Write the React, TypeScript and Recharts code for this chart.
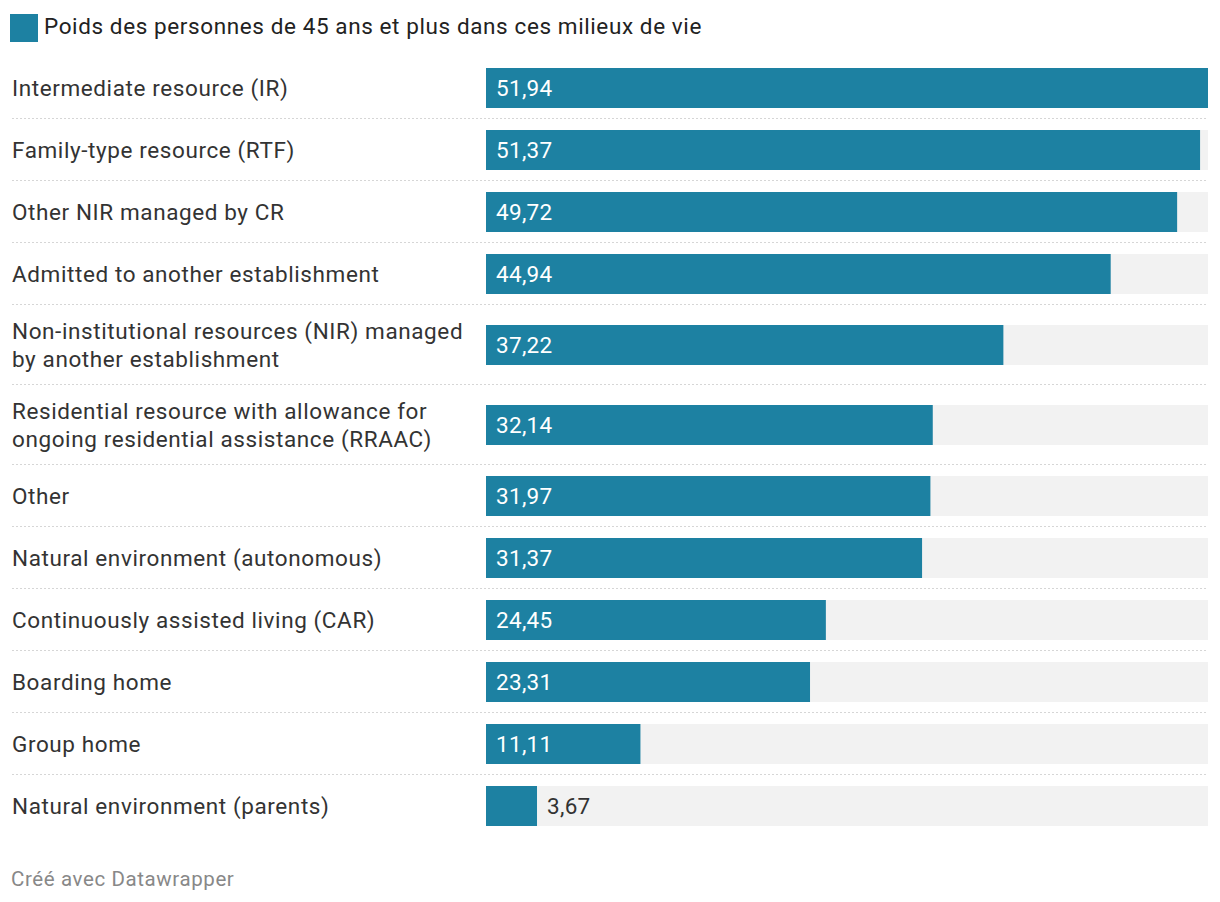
import { BarChart, Bar, XAxis, YAxis, LabelList } from "recharts";

const categories: string[] = [
  "Intermediate resource (IR)",
  "Family-type resource (RTF)",
  "Other NIR managed by CR",
  "Admitted to another establishment",
  "Non-institutional resources (NIR) managed\nby another establishment",
  "Residential resource with allowance for\nongoing residential assistance (RRAAC)",
  "Other",
  "Natural environment (autonomous)",
  "Continuously assisted living (CAR)",
  "Boarding home",
  "Group home",
  "Natural environment (parents)",
];

const values: number[] = [51.94, 51.37, 49.72, 44.94, 37.22, 32.14, 31.97, 31.37, 24.45, 23.31, 11.11, 3.67];

const legendLabel = "Poids des personnes de 45 ans et plus dans ces milieux de vie";
const creditLabel = "Créé avec Datawrapper";

const BAR_COLOR = "#1d81a2";
const BG_COLOR = "#f2f2f2";
const TEXT_COLOR = "#333333";
const FONT = "Roboto, sans-serif";
const FS = 22.5;
const LS = 0.6;
const maxValue = Math.max(...values);

const fmt = (v: number) => v.toFixed(2).replace(".", ",");

function LabelTick(props: any) {
  const { y, payload } = props;
  const lines = String(payload.value).split("\n");
  const lh = 28;
  const start = y - ((lines.length - 1) * lh) / 2;
  return (
    <text x={12} y={start} fontSize={FS} letterSpacing={LS} fill={TEXT_COLOR} fontFamily={FONT} textAnchor="start">
      {lines.map((l, i) => (
        <tspan key={i} x={12} y={start + i * lh} dy="0.36em">
          {l}
        </tspan>
      ))}
    </text>
  );
}

function ValueLabel(props: any) {
  const { x, y, width, height, value } = props;
  const inside = width > 75;
  return (
    <text
      x={inside ? x + 10 : x + width + 10}
      y={y + height / 2}
      dy="0.36em"
      fill={inside ? "#ffffff" : TEXT_COLOR}
      fontSize={FS}
      letterSpacing={0.3}
      fontFamily={FONT}
    >
      {fmt(Number(value))}
    </text>
  );
}

function Row({ label, value, last }: { label: string; value: number; last: boolean }) {
  const lines = label.split("\n").length;
  const h = 62 + (lines - 1) * 18;
  const pad = (h - 40) / 2;
  return (
    <div style={{ position: "relative", height: h }}>
      <BarChart
        width={1220}
        height={h}
        layout="vertical"
        data={[{ name: label, value }]}
        margin={{ top: pad, bottom: pad, left: 0, right: 12 }}
        barCategoryGap={0}
      >
        <XAxis type="number" hide domain={[0, maxValue]} />
        <YAxis type="category" dataKey="name" width={486} axisLine={false} tickLine={false} tick={<LabelTick />} />
        <Bar dataKey="value" fill={BAR_COLOR} background={{ fill: BG_COLOR }} isAnimationActive={false}>
          <LabelList dataKey="value" content={<ValueLabel />} />
        </Bar>
      </BarChart>
      {!last && (
        <div
          style={{
            position: "absolute",
            left: 12,
            right: 12,
            bottom: 0,
            height: 1,
            backgroundImage: "repeating-linear-gradient(to right, #d6d6d6 0 2px, transparent 2px 4px)",
          }}
        />
      )}
    </div>
  );
}

export default function App() {
  return (
    <div
      style={{
        position: "absolute",
        left: 0,
        top: 0,
        width: 1220,
        height: 902,
        background: "#ffffff",
        fontFamily: FONT,
        overflow: "hidden",
      }}
    >
      <div style={{ position: "absolute", left: 10, top: 14, width: 28, height: 28, background: BAR_COLOR }} />
      <div
        style={{
          position: "absolute",
          left: 44,
          top: 12,
          fontSize: FS,
          letterSpacing: LS,
          lineHeight: "28px",
          color: "#222",
          whiteSpace: "nowrap",
        }}
      >
        {legendLabel}
      </div>
      <div style={{ position: "absolute", left: 0, top: 57, width: 1220 }}>
        {categories.map((c, i) => (
          <Row key={c} label={c} value={values[i]} last={i === categories.length - 1} />
        ))}
      </div>
      <div
        style={{
          position: "absolute",
          left: 11,
          top: 865,
          fontSize: 20.5,
          letterSpacing: LS,
          lineHeight: "28px",
          color: "#888",
          whiteSpace: "nowrap",
        }}
      >
        {creditLabel}
      </div>
    </div>
  );
}
